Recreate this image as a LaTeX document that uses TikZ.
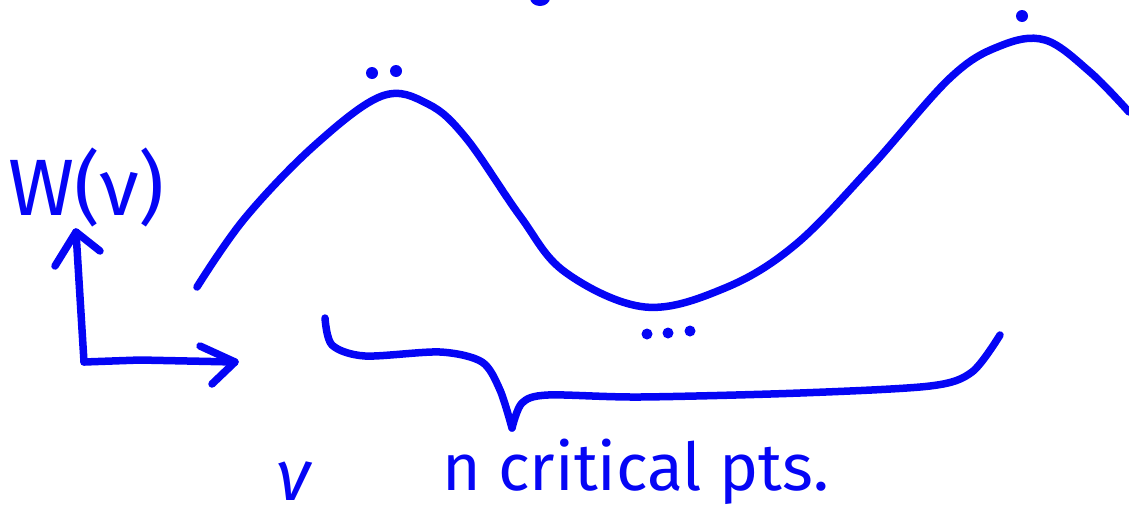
\documentclass[tikz,border=0pt]{standalone}
\usepackage{fontspec}
\setmainfont{Fira Sans}
\definecolor{ink}{RGB}{5,5,245}
\tikzset{
  pen/.style={draw=ink, line width=7.5pt, line cap=round, line join=round},
  hand/.style={text=ink, inner sep=0pt, anchor=base west},
  dot/.style={fill=ink, draw=none}
}
\begin{document}
\begin{tikzpicture}[x=1pt,y=-1pt]
\useasboundingbox (0,0) rectangle (1129,517);
% axes
\coordinate (O) at (84,362);
\coordinate (Ytip) at (76,232);
\coordinate (Xtip) at (235,362);
\draw[pen] (O) -- (Ytip);
\draw[pen] (55,266) -- (Ytip) -- (100,251);
\draw[pen] (O) -- (140,360) -- (Xtip);
\draw[pen] (200,346) -- (Xtip) -- (212,384);
% curve
\draw[pen] plot[smooth, tension=0.6] coordinates {
 (197,287) (245,218) (315,145) (382,96) (428,104) (466,138)
 (520,216) (565,272) (645,307) (725,288) (795,245) (870,168)
 (950,78) (1000,46) (1045,40) (1090,72) (1129,112)};
% dots
\fill[dot] (372,73) circle (6);
\fill[dot] (396,71) circle (6);
\fill[dot] (1022,16) circle (6);
\fill[dot] (647,334) circle (5.5);
\fill[dot] (668,333) circle (5.5);
\fill[dot] (690,331) circle (5.5);
\fill[dot] (540,-2) ellipse (10 and 8);
% brace
\draw[pen] plot[smooth, tension=0.5] coordinates {
 (325,318) (332,345) (365,356) (440,352) (482,362) (500,390) (512,428)};
\draw[pen] plot[smooth, tension=0.5] coordinates {
 (512,428) (522,403) (548,395) (640,397) (800,393) (930,386) (972,372) (1000,335)};
% labels
\node[hand, font=\fontsize{80}{80}\selectfont] (W) at (8,215) {W(ν)};
\node[hand, font=\fontsize{72}{72}\selectfont\itshape] (nu) at (276,500) {ν};
\node[hand, font=\fontsize{66}{66}\selectfont] (crit) at (442,490) {n critical pts.};
\end{tikzpicture}
\end{document}
